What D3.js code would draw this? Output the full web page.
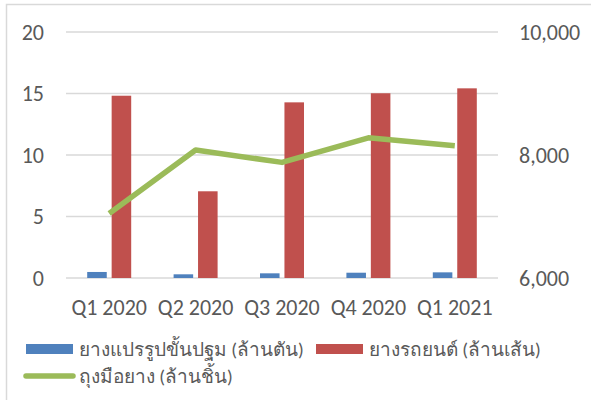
<!DOCTYPE html>
<html>
<head>
<meta charset="utf-8">
<script src="https://cdn.jsdelivr.net/npm/d3@7"></script>
<style>
  body { margin: 0; background: #fff; }
  svg text { font-family: Calibri, Carlito, "Liberation Sans", "Noto Sans", sans-serif; fill: #595959; }
</style>
</head>
<body>
<svg id="chart" width="591" height="400"></svg>
<script>
const categories = ["Q1 2020", "Q2 2020", "Q3 2020", "Q4 2020", "Q1 2021"];
const processedRubber = [0.49, 0.30, 0.38, 0.43, 0.46];   // ยางแปรรูปขั้นปฐม (ล้านตัน)
const tyres = [14.82, 7.05, 14.28, 15.02, 15.42];         // ยางรถยนต์ (ล้านเส้น)
const gloves = [7050, 8080, 7880, 8280, 8150];            // ถุงมือยาง (ล้านชิ้น)
const leftTicks = [0, 5, 10, 15, 20];
const rightTicks = [6000, 8000, 10000];
const seriesNames = ["ยางแปรรูปขั้นปฐม (ล้านตัน)", "ยางรถยนต์ (ล้านเส้น)", "ถุงมือยาง (ล้านชิ้น)"];
const colors = ["#4f81bd", "#c0504d", "#9bbb59"];

const svg = d3.select("#chart");
const plot = {left: 66, right: 498, top: 32, bottom: 278};

// outer frame of the chart area
svg.append("rect")
    .attr("x", 6.5).attr("y", 4.5)
    .attr("width", 640).attr("height", 440)
    .attr("fill", "none").attr("stroke", "#d9d9d9").attr("stroke-width", 1.5);

const x0 = d3.scaleBand().domain(categories).range([plot.left, plot.right]);
const groupW = 44;
const x1 = d3.scaleBand().domain([0, 1]).range([0, groupW]).paddingInner(0.2);
const yL = d3.scaleLinear().domain([0, 20]).range([plot.bottom, plot.top]);
const yR = d3.scaleLinear().domain([6000, 10000]).range([plot.bottom, plot.top]);

// gridlines
svg.append("g").selectAll("line").data(leftTicks).join("line")
    .attr("x1", plot.left).attr("x2", plot.right)
    .attr("y1", d => yL(d)).attr("y2", d => yL(d))
    .attr("stroke", "#d9d9d9").attr("stroke-width", 1.3);

// axes
const axL = svg.append("g").attr("transform", `translate(${plot.left},0)`)
    .call(d3.axisLeft(yL).tickValues(leftTicks).tickSize(0).tickPadding(22));
const axR = svg.append("g").attr("transform", `translate(${plot.right},0)`)
    .call(d3.axisRight(yR).tickValues(rightTicks).tickSize(0).tickPadding(21).tickFormat(d3.format(",")));
const axB = svg.append("g").attr("transform", `translate(0,${plot.bottom})`)
    .call(d3.axisBottom(x0).tickSize(0).tickPadding(21));
[axL, axR, axB].forEach(a => {
    a.select(".domain").remove();
    a.selectAll("text").attr("font-size", 22).attr("fill", "#595959")
        .style("font-family", 'Calibri, Carlito, "Liberation Sans", "Noto Sans", sans-serif');
});

// bars
const groupOff = (x0.bandwidth() - groupW) / 2;
[processedRubber, tyres].forEach((vals, si) => {
    svg.append("g").selectAll("rect").data(vals).join("rect")
        .attr("x", (d, i) => x0(categories[i]) + groupOff + x1(si))
        .attr("width", x1.bandwidth())
        .attr("y", d => yL(d))
        .attr("height", d => yL(0) - yL(d))
        .attr("fill", colors[si]);
});

// line
const line = d3.line()
    .x((d, i) => x0(categories[i]) + x0.bandwidth() / 2)
    .y(d => yR(d));
svg.append("path").datum(gloves)
    .attr("d", line)
    .attr("fill", "none").attr("stroke", colors[2])
    .attr("stroke-width", 5.5).attr("stroke-linejoin", "round");

// legend
const lg = svg.append("g");
const legendItems = [
    {x: 26, y: 349, type: "rect"},
    {x: 316, y: 349, type: "rect"},
    {x: 26, y: 376, type: "line"}
];
legendItems.forEach((it, i) => {
    if (it.type === "rect") {
        lg.append("rect").attr("x", it.x).attr("y", it.y - 5)
            .attr("width", 47).attr("height", 10).attr("fill", colors[i]);
    } else {
        lg.append("line").attr("x1", it.x).attr("x2", it.x + 47)
            .attr("y1", it.y).attr("y2", it.y)
            .attr("stroke", colors[i]).attr("stroke-width", 5.5).attr("stroke-linecap", "round");
    }
    lg.append("text").attr("x", it.x + 53).attr("y", it.y)
        .attr("dy", "0.35em").attr("font-size", 19)
        .text(seriesNames[i]);
});
</script>
</body>
</html>
